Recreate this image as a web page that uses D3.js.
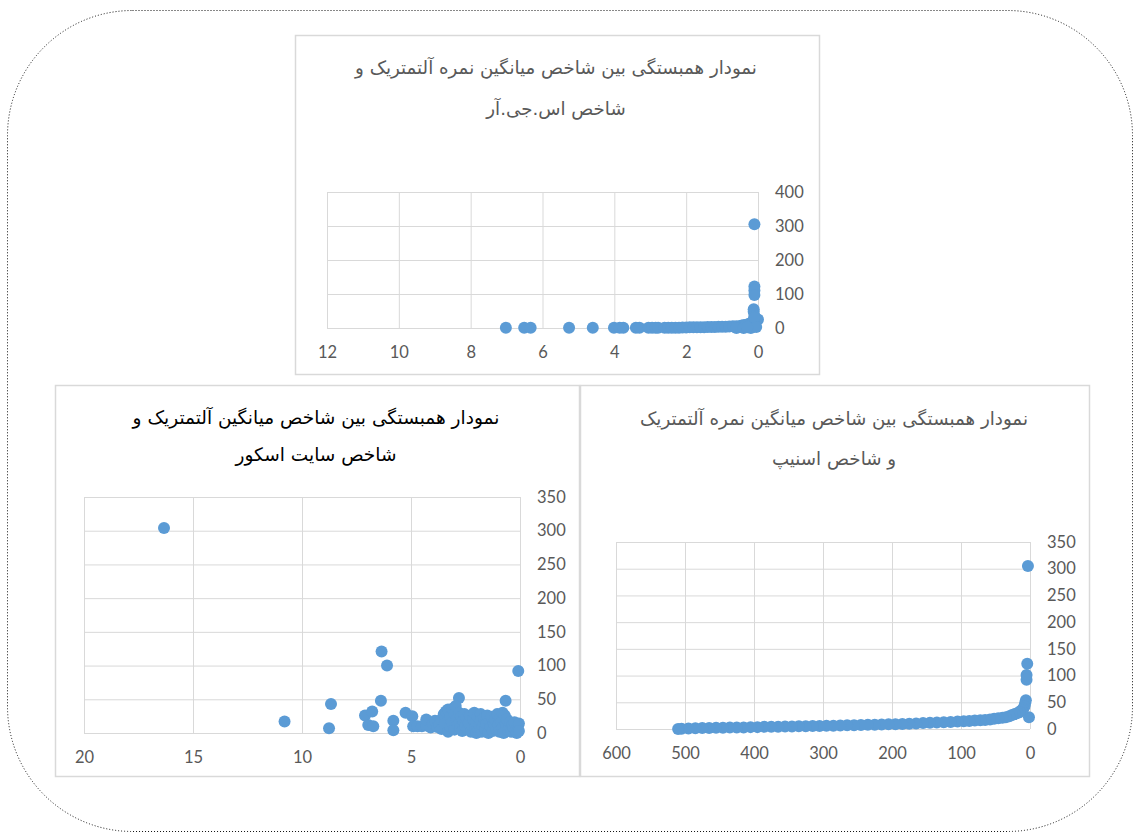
<!DOCTYPE html>
<html>
<head>
<meta charset="utf-8">
<script src="https://cdn.jsdelivr.net/npm/d3@7"></script>
<style>
  body { margin: 0; background: #ffffff; }
  .tick-label text { font-family: Lato, "Open Sans", sans-serif; font-size: 16.5px; fill: #595959; }
  .title { font-family: "DejaVu Sans", sans-serif; }
</style>
</head>
<body>
<div id="chart"></div>
<script>

/*******************************/
/*    Data   */
/*******************************/
// SJR chart (top)
const sjrTitle = ["نمودار همبستگی بین شاخص میانگین نمره آلتمتریک و", "شاخص اس.جی.آر"];
const sjrXTicks = [12, 10, 8, 6, 4, 2, 0];
const sjrYTicks = [0, 100, 200, 300, 400];
const sjrX = [0.1, 0.1, 0.1, 0.1, 0.12, 0.12, 0.1, 0.0,
  7.02, 6.51, 6.33, 5.26, 4.6, 4.01, 3.85, 3.75, 3.4, 3.3, 3.05, 2.95, 2.85, 2.78,
  2.6, 2.5, 2.4, 2.3, 2.2, 2.1, 2.0, 1.9, 1.8, 1.7, 1.6, 1.5, 1.4, 1.3, 1.2, 1.1, 1.0,
  0.9, 0.8, 0.7, 0.6, 0.5, 0.45, 0.4, 0.35, 0.3, 0.25, 0.2, 0.2, 0.15, 0.12, 0.1, 0.05,
  0.6, 0.4, 0.3];
const sjrY = [305, 122, 110, 97, 55, 48, 35, 25,
  1, 1, 1, 1, 1, 1, 1, 1, 1, 1, 1, 1, 1, 1,
  1, 1, 1, 1, 1, 1.5, 1.5, 2, 2, 2, 2.5, 2.5, 3, 3, 3, 3.5, 4,
  4, 4.5, 5, 5.5, 6, 7, 8, 9, 10, 12, 15, 0, 18, 22, 30, 3,
  0, 0, 2];

// SiteScore chart (bottom left)
const siteTitle = ["نمودار همبستگی بین شاخص میانگین آلتمتریک و", "شاخص سایت اسکور"];
const siteXTicks = [20, 15, 10, 5, 0];
const siteYTicks = [0, 50, 100, 150, 200, 250, 300, 350];
const siteX = [16.33, 6.35, 6.1, 0.08, 6.38, 8.67, 10.8, 8.76, 7.11, 6.78, 6.96, 6.73,
  5.81, 5.81, 5.25, 4.94, 2.8, 0.66,
  4.9, 4.7, 4.5, 4.3, 4.3, 4.1, 4.0, 3.9, 3.8, 3.7, 3.6, 3.6, 3.5, 3.45, 3.4, 3.3, 3.3,
  3.2, 3.2, 3.1, 3.1, 3.0, 3.0, 2.95, 2.9, 2.85, 2.8, 2.75, 2.7, 2.65, 2.6, 2.55, 2.5,
  2.45, 2.4, 2.35, 2.3, 2.25, 2.2, 2.15, 2.1, 2.05, 2.0, 2.0, 1.95, 1.9, 1.85, 1.8, 1.8,
  1.75, 1.7, 1.65, 1.6, 1.55, 1.5, 1.45, 1.4, 1.35, 1.3, 1.25, 1.2, 1.15, 1.1, 1.05, 1.0,
  0.95, 0.9, 0.85, 0.8, 0.8, 0.75, 0.7, 0.65, 0.6, 0.55, 0.5, 0.45, 0.4, 0.35, 0.3, 0.25,
  0.2, 0.15, 0.1, 0.05, 0.05];
const siteY = [304, 121, 100, 92, 48, 43, 17, 7, 26, 32, 12, 10,
  18, 4, 30, 25, 52, 48,
  10, 10, 10, 11, 20, 8, 14, 18, 9, 12, 6, 20, 28, 14, 32, 2, 35,
  24, 10, 36, 16, 5, 28, 40, 20, 12, 30, 8, 24, 3, 18, 28, 10,
  22, 6, 15, 26, 2, 12, 20, 30, 8, 16, 0, 24, 4, 12, 28, 18,
  2, 10, 22, 6, 14, 26, 0, 18, 9, 24, 3, 14, 20, 6, 28, 12,
  2, 22, 16, 30, 8, 0, 26, 14, 20, 4, 10, 16, 2, 12, 8, 16,
  4, 0, 10, 14, 3];

// SNIP chart (bottom right)
const snipTitle = ["نمودار همبستگی بین شاخص میانگین نمره آلتمتریک", "و شاخص اسنیپ"];
const snipXTicks = [600, 500, 400, 300, 200, 100, 0];
const snipYTicks = [0, 50, 100, 150, 200, 250, 300, 350];
const snipX = [3, 4, 5, 5, 6, 7, 1.5,
  8, 10, 12, 15, 18, 22, 26, 30, 35, 40, 46, 52, 58, 65, 72, 80, 88, 96, 105, 115,
  125, 135, 145, 155, 165, 175, 185, 195, 205, 215, 225, 235, 245, 255, 265, 275,
  285, 295, 305, 315, 325, 335, 345, 355, 365, 375, 385, 395, 405, 415, 425, 435,
  445, 455, 465, 475, 485, 495, 505, 510];
const snipY = [305, 122, 101, 92, 54, 48, 22,
  42, 38, 35, 32, 30, 28, 26, 24, 22, 21, 20, 19, 18, 17, 16.5, 16, 15, 14.5, 14, 13,
  12.5, 12, 11.5, 11, 10.5, 10, 9.5, 9, 9, 8.5, 8, 8, 7.5, 7, 7, 6.5,
  6, 6, 5.5, 5.5, 5, 5, 4.5, 4.5, 4, 4, 4, 3.5, 3.5, 3, 3, 3,
  2.5, 2.5, 2, 2, 1.5, 1, 0.5, 0];

/*******************************/
/*    Layout of the panels     */
/*******************************/
const width = 1134;
const height = 834;
const dotBlue = "#5b9bd5";
const gridGray = "#d9d9d9";

const panels = [
  { title: sjrTitle, titleColor: "#595959", titleX: 556, titleY: [74, 115], titleWidth: 402,
    box: { x: 295, y: 35, w: 524, h: 339 },
    plot: { left: 327, top: 192, right: 758, bottom: 328 },
    xDomain: [12, 0], yDomain: [0, 400], xTicks: sjrXTicks, yTicks: sjrYTicks, xs: sjrX, ys: sjrY },
  { title: siteTitle, titleColor: "#000000", titleX: 316, titleY: [424, 461], titleWidth: 367,
    box: { x: 55, y: 385, w: 524, h: 391 },
    plot: { left: 84, top: 497, right: 520, bottom: 733 },
    xDomain: [20, 0], yDomain: [0, 350], xTicks: siteXTicks, yTicks: siteYTicks, xs: siteX, ys: siteY },
  { title: snipTitle, titleColor: "#595959", titleX: 834, titleY: [425, 465], titleWidth: 388,
    box: { x: 580, y: 385, w: 509, h: 391 },
    plot: { left: 616, top: 542, right: 1030, bottom: 729 },
    xDomain: [600, 0], yDomain: [0, 350], xTicks: snipXTicks, yTicks: snipYTicks, xs: snipX, ys: snipY }
];

/*******************************/
/*    Append the containers    */
/*******************************/
const svg = d3.select("#chart")
  .append("svg")
    .attr("width", width)
    .attr("height", height)
    .attr("viewBox", `0 0 ${width} ${height}`);

// dotted rounded frame around everything
svg
  .append("rect")
    .attr("x", 7.5)
    .attr("y", 10.5)
    .attr("width", 1125)
    .attr("height", 821)
    .attr("rx", 125)
    .attr("fill", "none")
    .attr("stroke", "#111111")
    .attr("stroke-width", 1)
    .attr("stroke-dasharray", "1,2");

const drawPanel = (p) => {

  const g = svg.append("g");

  // chart border
  g.append("rect")
    .attr("x", p.box.x + 0.5)
    .attr("y", p.box.y + 0.5)
    .attr("width", p.box.w)
    .attr("height", p.box.h)
    .attr("fill", "#ffffff")
    .attr("stroke", gridGray)
    .attr("stroke-width", 1.5);

  const innerWidth = p.plot.right - p.plot.left;
  const innerHeight = p.plot.bottom - p.plot.top;

  /****************************/
  /*    Declare the scales    */
  /****************************/
  const xScale = d3.scaleLinear()
    .domain(p.xDomain)
    .range([0, innerWidth]);

  const yScale = d3.scaleLinear()
    .domain(p.yDomain)
    .range([innerHeight, 0]);

  const inner = g.append("g")
    .attr("transform", `translate(${p.plot.left}, ${p.plot.top})`);

  // vertical grid
  inner.append("g")
    .attr("transform", `translate(0, ${innerHeight})`)
    .call(d3.axisBottom(xScale).tickValues(p.xTicks).tickSize(-innerHeight).tickFormat(""))
    .call(a => a.select(".domain").remove())
    .call(a => a.selectAll("line").attr("stroke", gridGray));

  // horizontal grid
  inner.append("g")
    .call(d3.axisLeft(yScale).tickValues(p.yTicks).tickSize(-innerWidth).tickFormat(""))
    .call(a => a.select(".domain").remove())
    .call(a => a.selectAll("line").attr("stroke", gridGray));

  // x labels
  inner.append("g")
    .attr("class", "tick-label")
    .attr("transform", `translate(0, ${innerHeight})`)
    .call(d3.axisBottom(xScale).tickValues(p.xTicks).tickSize(0).tickPadding(18))
    .call(a => a.select(".domain").remove());

  // y labels on the right
  inner.append("g")
    .attr("class", "tick-label")
    .attr("transform", `translate(${innerWidth}, 0)`)
    .call(d3.axisRight(yScale).tickValues(p.yTicks).tickSize(0).tickPadding(17))
    .call(a => a.select(".domain").remove());

  // the points
  const points = p.xs.map((x, i) => ({ x: x, y: p.ys[i] }));
  inner.selectAll("circle")
    .data(points)
    .join("circle")
      .attr("cx", d => xScale(d.x))
      .attr("cy", d => yScale(d.y))
      .attr("r", 6)
      .attr("fill", dotBlue);

  // title, two lines, sized to fit the original width
  const lines = g.selectAll("text.title")
    .data(p.title)
    .join("text")
      .attr("class", "title")
      .attr("direction", "rtl")
      .attr("text-anchor", "middle")
      .attr("x", p.titleX)
      .attr("y", (d, i) => p.titleY[i])
      .attr("fill", p.titleColor)
      .style("font-size", "18px")
      .text(d => d);

  const w = lines.nodes()[0].getComputedTextLength();
  lines.style("font-size", `${18 * p.titleWidth / w}px`);
};

panels.forEach(drawPanel);

</script>
</body>
</html>
